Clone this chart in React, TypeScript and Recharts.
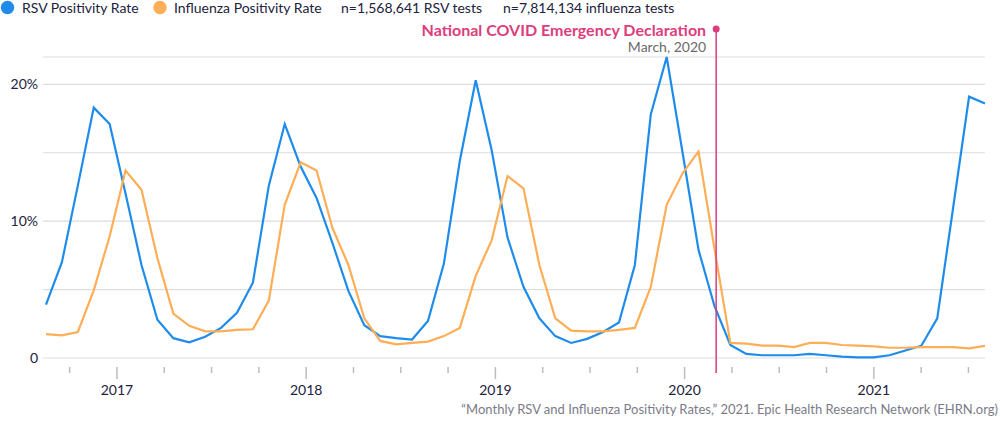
import React from 'react';
import { CartesianGrid, Line, LineChart, ReferenceLine, XAxis, YAxis } from 'recharts';

// Monthly positivity, Aug 2016 → Jul 2021 (percent of tests positive)
const months = [
  'Aug 2016', 'Sep 2016', 'Oct 2016', 'Nov 2016', 'Dec 2016',
  'Jan 2017', 'Feb 2017', 'Mar 2017', 'Apr 2017', 'May 2017', 'Jun 2017', 'Jul 2017',
  'Aug 2017', 'Sep 2017', 'Oct 2017', 'Nov 2017', 'Dec 2017',
  'Jan 2018', 'Feb 2018', 'Mar 2018', 'Apr 2018', 'May 2018', 'Jun 2018', 'Jul 2018',
  'Aug 2018', 'Sep 2018', 'Oct 2018', 'Nov 2018', 'Dec 2018',
  'Jan 2019', 'Feb 2019', 'Mar 2019', 'Apr 2019', 'May 2019', 'Jun 2019', 'Jul 2019',
  'Aug 2019', 'Sep 2019', 'Oct 2019', 'Nov 2019', 'Dec 2019',
  'Jan 2020', 'Feb 2020', 'Mar 2020', 'Apr 2020', 'May 2020', 'Jun 2020', 'Jul 2020',
  'Aug 2020', 'Sep 2020', 'Oct 2020', 'Nov 2020', 'Dec 2020',
  'Jan 2021', 'Feb 2021', 'Mar 2021', 'Apr 2021', 'May 2021', 'Jun 2021', 'Jul 2021',
];

const rsvRate = [
  3.9, 7.0, 12.6, 18.3, 17.1, 12.0, 6.8, 2.8, 1.45, 1.15, 1.55, 2.2,
  3.3, 5.5, 12.6, 17.1, 14.0, 11.7, 8.4, 4.9, 2.4, 1.6, 1.45, 1.35,
  2.7, 6.9, 14.4, 20.3, 15.2, 8.8, 5.2, 2.9, 1.6, 1.1, 1.4, 1.9,
  2.6, 6.8, 17.8, 22.0, 15.0, 7.9, 3.8, 0.95, 0.3, 0.2, 0.2, 0.2,
  0.3, 0.2, 0.1, 0.05, 0.05, 0.2, 0.55, 0.9, 2.9, 11.0, 19.1, 18.6,
];

const fluRate = [
  1.75, 1.65, 1.9, 4.95, 8.9, 13.7, 12.3, 7.3, 3.25, 2.35, 1.95, 1.95,
  2.05, 2.1, 4.2, 11.2, 14.3, 13.7, 9.5, 6.8, 2.9, 1.25, 1.0, 1.1,
  1.2, 1.6, 2.2, 6.0, 8.6, 13.3, 12.4, 6.8, 2.9, 2.0, 1.95, 1.95,
  2.05, 2.2, 5.2, 11.2, 13.5, 15.1, 8.0, 1.1, 1.05, 0.9, 0.9, 0.8,
  1.1, 1.1, 0.95, 0.9, 0.85, 0.75, 0.75, 0.8, 0.8, 0.8, 0.7, 0.88,
];

// calendar axis: months counted from Jan 2017, one tick per quarter
const quarterTicks = [-3, 0, 3, 6, 9, 12, 15, 18, 21, 24, 27, 30, 33, 36, 39, 42, 45, 48, 51, 54];
const yTicks = [0, 5, 10, 15, 20];
const covidMonth = 38; // March 1, 2020

const RSV = '#1f8ceb';
const FLU = '#fdae56';
const PINK = '#dc3d7c';
const INK = '#22223d';

const data = months.map((m, i) => ({ i, month: m, rsv: rsvRate[i], flu: fluRate[i] }));

function QuarterTick({ x, y, payload }: any) {
  const v = payload?.value ?? 0;
  const isYear = v % 12 === 0;
  return (
    <g>
      <line x1={x} x2={x} y1={y + 9} y2={y + (isYear ? 21 : 15)} stroke="#bdbdbd" strokeWidth={1.5} />
      {isYear && (
        <text x={x} y={y + 37} textAnchor="middle" fontSize={14} fill={INK} fontFamily="Lato">
          {2017 + v / 12}
        </text>
      )}
    </g>
  );
}

function CovidMarker(props: any) {
  const { x1, y1, y2 } = props;
  const top = Math.min(y1, y2) - 28;
  const bottom = Math.max(y1, y2) + 15;
  return (
    <g>
      <line x1={x1} x2={x1} y1={top} y2={bottom} stroke={PINK} strokeWidth={1.5} />
      <circle cx={x1} cy={top} r={3.5} fill={PINK} />
      <text x={x1 - 10} y={top + 7} textAnchor="end" fontSize={16} fontWeight={700} fill={PINK} fontFamily="Lato">
        National COVID Emergency Declaration
      </text>
      <text x={x1 - 10} y={top + 23} textAnchor="end" fontSize={14} fill="#6b6b6b" fontFamily="Lato">
        March, 2020
      </text>
    </g>
  );
}

export default function App() {
  return (
    <div style={{ position: 'absolute', left: 0, top: 0, width: 1000, height: 426, background: '#fff', fontFamily: 'Lato' }}>
      <LineChart width={1000} height={426} data={data} margin={{ top: 57, right: 15, bottom: 0, left: 0 }}>
        <CartesianGrid vertical={false} stroke="#dddddd" strokeWidth={1.2} />
        <XAxis xAxisId="data" dataKey="i" type="number" domain={[0, 59]} orientation="top" hide padding={{ left: 3, right: 0 }} />
        {/* needs a dataKey so recharts reads the numeric domain instead of row indexes */}
        <XAxis
          xAxisId="cal"
          dataKey="i"
          type="number"
          domain={[-4.5, 55.05]}
          allowDataOverflow
          ticks={quarterTicks}
          interval={0}
          padding={{ left: 3, right: 0 }}
          height={68}
          tickSize={0}
          tickMargin={0}
          axisLine={false}
          tickLine={false}
          tick={<QuarterTick />}
        />
        <YAxis
          type="number"
          domain={[0, 22]}
          ticks={yTicks}
          width={43}
          axisLine={false}
          tickLine={false}
          tickSize={0}
          tickMargin={5}
          tick={{ fontSize: 14, fill: INK, fontFamily: 'Lato' }}
          tickFormatter={(v: number) => (v === 0 ? '0' : v % 10 === 0 ? `${v}%` : '')}
        />
        <Line xAxisId="data" dataKey="rsv" stroke={RSV} strokeWidth={2.2} dot={false} isAnimationActive={false} />
        <Line xAxisId="data" dataKey="flu" stroke={FLU} strokeWidth={2.2} dot={false} isAnimationActive={false} />
        <ReferenceLine xAxisId="cal" x={covidMonth} ifOverflow="visible" shape={(p: any) => <CovidMarker {...p} />} />
      </LineChart>
      <svg width={1000} height={426} style={{ position: 'absolute', left: 0, top: 0, pointerEvents: 'none' }} fontFamily="Lato">
        <circle cx={7.5} cy={7.5} r={6.7} fill={RSV} />
        <text x={22} y={13.3} fontSize={14} fill={INK}>RSV Positivity Rate</text>
        <circle cx={160} cy={7.5} r={6.7} fill={FLU} />
        <text x={174} y={13.3} fontSize={14} fill={INK}>Influenza Positivity Rate</text>
        <text x={341} y={13.3} fontSize={14} fill={INK}>n=1,568,641 RSV tests</text>
        <text x={503} y={13.3} fontSize={14} fill={INK}>n=7,814,134 influenza tests</text>
        <text x={998} y={414} fontSize={13} fill="#7b7b88" textAnchor="end">
          “Monthly RSV and Influenza Positivity Rates,” 2021. Epic Health Research Network (EHRN.org)
        </text>
      </svg>
    </div>
  );
}
